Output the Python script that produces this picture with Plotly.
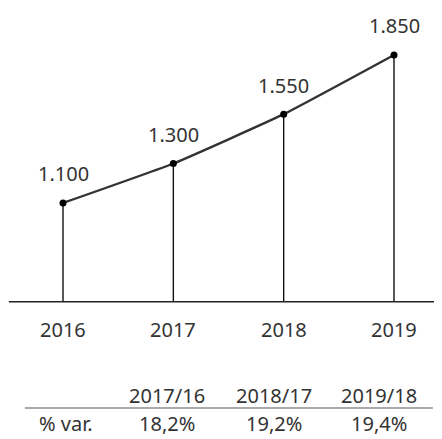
import plotly.graph_objects as go

# data
years = [2016, 2017, 2018, 2019]
values = [1100, 1300, 1550, 1850]
value_labels = ["1.100", "1.300", "1.550", "1.850"]
row_label = "% var."
var_periods = ["2017/16", "2018/17", "2019/18"]
var_pct = ["18,2%", "19,2%", "19,4%"]

BASE = 600
FONT = "Noto Sans"
TXT = "#333333"
SIZE = 20

fig = go.Figure()

# vertical drop lines from the baseline up to each point
drop_x, drop_y = [], []
for x, v in zip(years, values):
    drop_x += [x, x, None]
    drop_y += [BASE, v, None]
fig.add_trace(go.Scatter(
    x=drop_x, y=drop_y, mode="lines",
    line=dict(color="#111111", width=1.4),
    hoverinfo="skip", showlegend=False,
))

# main line
fig.add_trace(go.Scatter(
    x=years, y=values, mode="lines+markers",
    line=dict(color="#333333", width=2.4, shape="spline", smoothing=0.4),
    marker=dict(color="#000000", size=7),
    showlegend=False,
))

# value labels above the points
for x, v, t in zip(years, values, value_labels):
    fig.add_annotation(x=x, y=v, text=t, showarrow=False, yshift=29,
                       xanchor="center", yanchor="middle",
                       font=dict(family=FONT, size=SIZE, color=TXT))

# baseline
fig.add_shape(type="line", xref="paper", yref="y",
              x0=0.002, x1=1, y0=BASE, y1=BASE,
              line=dict(color="#222222", width=1.5))

# year labels
for x in years:
    fig.add_annotation(x=x, y=0.255, yref="paper", text=str(x),
                       showarrow=False, xanchor="center", yanchor="middle",
                       font=dict(family=FONT, size=SIZE, color=TXT))

# variation table
col_x = [0.3675, 0.6118, 0.8548]
for cx, p, v in zip(col_x, var_periods, var_pct):
    fig.add_annotation(x=cx, xref="paper", y=0.0998, yref="paper", text=p,
                       showarrow=False, xanchor="center", yanchor="middle",
                       font=dict(family=FONT, size=SIZE, color=TXT))
    fig.add_annotation(x=cx, xref="paper", y=0, yref="paper", text=v,
                       showarrow=False, xanchor="center", yanchor="bottom",
                       font=dict(family=FONT, size=SIZE, color=TXT))
fig.add_annotation(x=0.1336, xref="paper", y=0, yref="paper", text=row_label,
                   showarrow=False, xanchor="center", yanchor="bottom",
                   font=dict(family=FONT, size=SIZE, color=TXT))
fig.add_shape(type="line", xref="paper", yref="paper",
              x0=0.039, x1=0.979, y0=0.0719, y1=0.0719,
              line=dict(color="#aaaaaa", width=2))

fig.update_layout(
    width=434, height=431,
    margin=dict(l=0, r=0, t=0, b=0),
    paper_bgcolor="white", plot_bgcolor="white",
    xaxis=dict(range=[2015.5015, 2019.435], visible=False),
    yaxis=dict(range=[-96, 2088], visible=False),
)

fig.write_html("out.html")
